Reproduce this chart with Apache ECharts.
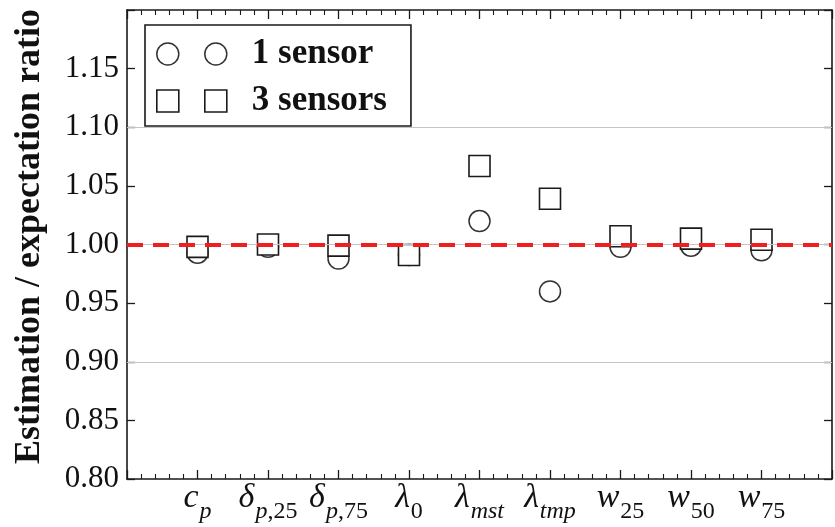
<!DOCTYPE html>
<html>
<head>
<meta charset="utf-8">
<script src="https://cdn.jsdelivr.net/npm/echarts@6/dist/echarts.min.js"></script>
<style>
  html, body { margin: 0; padding: 0; background: #fff; }
  #chart { width: 835px; height: 527px; }
</style>
</head>
<body>
<div id="chart"></div>
<script>
// Parameters along the x axis (rich-text label markup for each)
const parameters = ['c_p', 'delta_p25', 'delta_p75', 'lambda_0', 'lambda_mst', 'lambda_tmp', 'w_25', 'w_50', 'w_75'];
const parameterLabels = [
  '{i|c}{si|p}',
  '{i|δ}{si|p}{s|,25}',
  '{i|δ}{si|p}{s|,75}',
  '{i|λ}{s|0}',
  '{i|λ}{si|mst}',
  '{i|λ}{si|tmp}',
  '{i|w}{s|25}',
  '{i|w}{s|50}',
  '{i|w}{s|75}'
];

// Estimation / expectation ratios per parameter
const oneSensor = [0.993, 0.998, 0.988, 0.991, 1.020, 0.960, 0.998, 0.999, 0.995];
const threeSensors = [0.998, 1.000, 0.999, 0.991, 1.067, 1.039, 1.007, 1.005, 1.004];

// Y axis range and reference lines
const yMin = 0.80;
const yMax = 1.20;
const yStep = 0.05;
const gridLevels = [0.90, 1.00, 1.10];
const expectedRatio = 1.00;

const serif = "'Liberation Serif', 'DejaVu Serif', serif";
const ink = '#1a1a1a';

const circlePair = 'path://M0,11 A11,11 0 1,1 22,11 A11,11 0 1,1 0,11 Z M48,11 A11,11 0 1,1 70,11 A11,11 0 1,1 48,11 Z';
const squarePair = 'path://M0,0 L22,0 L22,22 L0,22 Z M48,0 L70,0 L70,22 L48,22 Z';

const toPoints = arr => arr.map((v, i) => [i, v]);

const chart = echarts.init(document.getElementById('chart'), null, { renderer: 'canvas' });

const xBase = {
  type: 'value', min: -1, max: 9, interval: 1,
  axisLine: { show: true, onZero: false, lineStyle: { color: ink, width: 1.6 } },
  axisTick: { show: true, inside: true, length: 9, lineStyle: { color: ink, width: 1.3 } },
  minorTick: { show: true, splitNumber: 5, length: 5, lineStyle: { color: ink, width: 1.1 } },
  splitLine: { show: false },
  minorSplitLine: { show: false }
};
const yBase = {
  type: 'value', min: yMin, max: yMax, interval: yStep,
  axisLine: { show: true, onZero: false, lineStyle: { color: ink, width: 1.6 } },
  axisTick: { show: true, inside: true, length: 8, lineStyle: { color: ink, width: 1.3 } },
  splitLine: { show: false }
};

chart.setOption({
  animation: false,
  backgroundColor: '#fff',
  grid: { left: 127, right: 3, top: 10, bottom: 48, containLabel: false },
  legend: {
    orient: 'vertical',
    left: 145, top: 25,
    padding: [11, 24, 7, 11],
    itemGap: 11,
    itemWidth: 70, itemHeight: 22,
    backgroundColor: '#fff',
    borderColor: ink, borderWidth: 1.6, borderRadius: 0,
    selectedMode: false,
    textStyle: { fontFamily: serif, fontSize: 35, fontWeight: 'bold', color: '#111', lineHeight: 36, padding: [0, 0, 0, 20] },
    data: [
      { name: '1 sensor', icon: circlePair, itemStyle: { color: '#fff', borderColor: '#333', borderWidth: 1.5 } },
      { name: '3 sensors', icon: squarePair, itemStyle: { color: '#fff', borderColor: ink, borderWidth: 1.6 } }
    ]
  },
  xAxis: [
    Object.assign({}, xBase, {
      position: 'bottom',
      axisLabel: {
        show: true, margin: 13,
        formatter: v => (v >= 0 && v < parameterLabels.length) ? parameterLabels[v] : '',
        rich: {
          i: { fontFamily: serif, fontStyle: 'italic', fontSize: 34, lineHeight: 32, color: '#111', verticalAlign: 'bottom', padding: [0, 1, 9, 0] },
          si: { fontFamily: serif, fontStyle: 'italic', fontSize: 24, lineHeight: 22, color: '#111', verticalAlign: 'bottom' },
          s: { fontFamily: serif, fontSize: 24, lineHeight: 22, color: '#111', verticalAlign: 'bottom' }
        }
      }
    }),
    Object.assign({}, xBase, { position: 'top', axisLabel: { show: false } })
  ],
  yAxis: [
    Object.assign({}, yBase, {
      position: 'left',
      name: 'Estimation / expectation ratio',
      nameLocation: 'middle',
      nameGap: 79,
      nameTextStyle: { fontFamily: serif, fontSize: 36, fontWeight: 'bold', color: '#111', padding: [0, 0, 0, 16] },
      axisLabel: {
        show: true, margin: 8,
        fontFamily: serif, fontSize: 31, color: '#111',
        formatter: v => v > yMax - yStep / 2 ? '' : v.toFixed(2)
      }
    }),
    Object.assign({}, yBase, { position: 'right', axisLabel: { show: false } })
  ],
  series: [
    {
      // Light reference grid and the dashed expectation line
      type: 'line', data: [], z: 1, silent: true,
      markLine: {
        symbol: ['none', 'none'], silent: true, animation: false,
        label: { show: false },
        lineStyle: { color: '#c4c4c4', width: 1.2, type: 'solid' },
        data: gridLevels.map(v => ({ yAxis: v }))
      }
    },
    {
      name: '1 sensor', type: 'scatter', z: 3,
      symbol: 'circle', symbolSize: 21,
      itemStyle: { color: '#fff', borderColor: '#333', borderWidth: 1.5, opacity: 1 },
      data: toPoints(oneSensor)
    },
    {
      name: '3 sensors', type: 'scatter', z: 4,
      symbol: 'rect', symbolSize: 21,
      itemStyle: { color: '#fff', borderColor: ink, borderWidth: 1.6, opacity: 1 },
      data: toPoints(threeSensors)
    },
    {
      type: 'line', data: [], z: 6, silent: true,
      markLine: {
        symbol: ['none', 'none'], silent: true, animation: false,
        label: { show: false },
        lineStyle: { color: '#f01e1e', width: 4, type: [16, 10] },
        data: [{ yAxis: expectedRatio }]
      }
    }
  ]
});
</script>
</body>
</html>
